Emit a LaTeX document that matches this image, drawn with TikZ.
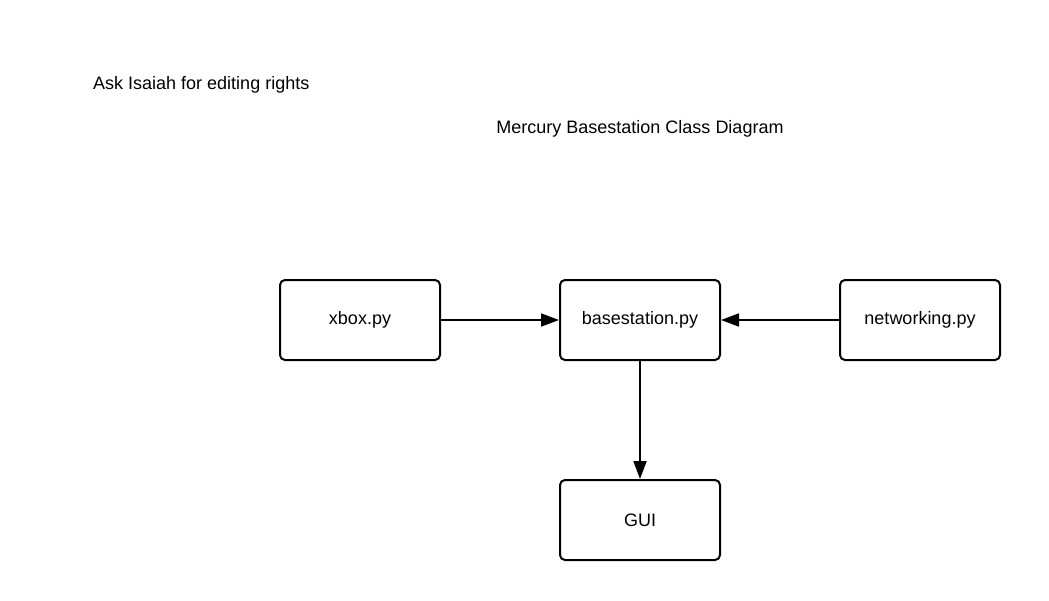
\documentclass[tikz,border=0pt]{standalone}
\usepackage{fontspec}
\setmainfont{Liberation Sans}
\usetikzlibrary{arrows.meta}

\begin{document}
\begin{tikzpicture}[x=1pt, y=-1pt,
    classbox/.style={draw, line width=2pt, rounded corners=5pt, minimum width=160pt,
                     minimum height=80pt, inner sep=0pt, font=\fontsize{18}{21}\selectfont},
    plain/.style={inner sep=0pt, font=\fontsize{18}{21}\selectfont},
    link/.style={line width=2pt, -{Triangle[length=18pt, width=13pt]}}]
            \useasboundingbox (0,0) rectangle (1049,600);
            \node[plain, anchor=west](Note) at (93,85) {Ask Isaiah for editing rights};
            \node[plain](Title) at (640,129) {Mercury Basestation Class Diagram};
            \node[classbox](Xbox) at (360,320) {xbox.py};
            \node[classbox](Base) at (640,320) {basestation.py};
            \node[classbox](Net) at (920,320) {networking.py};
            \node[classbox](Gui) at (640,520) {GUI};
            \draw[link] (Xbox) -- (Base);
            \draw[link] (Net) -- (Base);
            \draw[link] (Base) -- (Gui);
        \end{tikzpicture}
\end{document}
